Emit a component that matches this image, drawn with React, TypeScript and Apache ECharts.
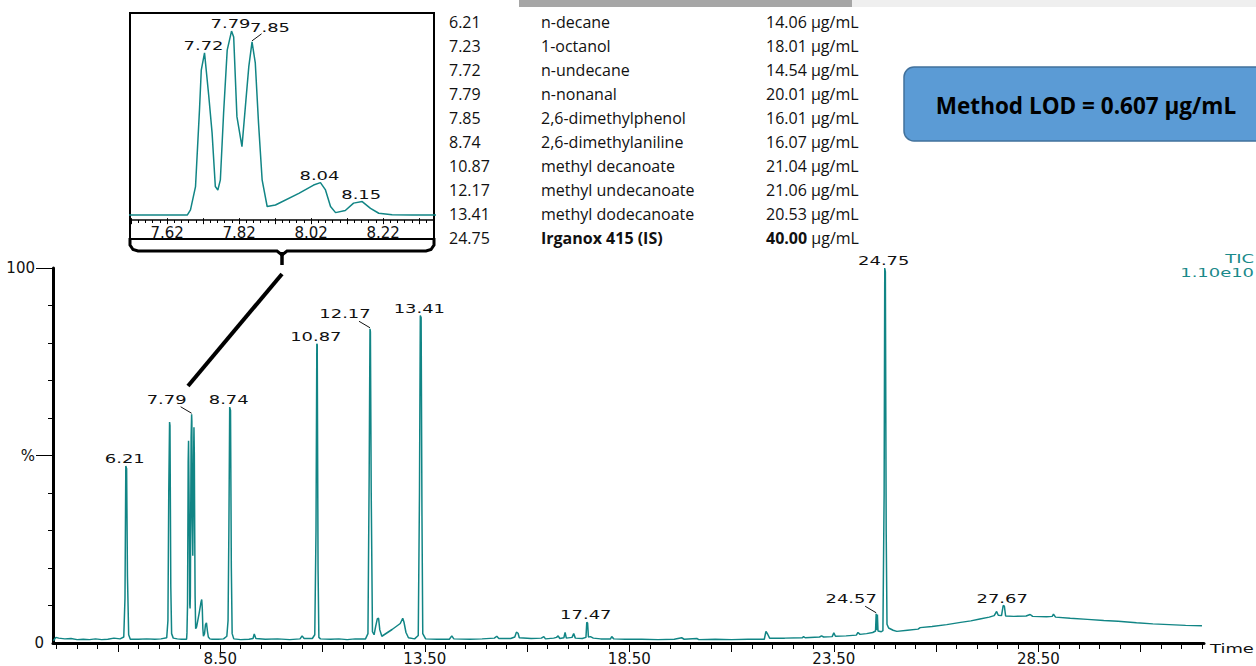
import React, { useEffect, useRef } from 'react';
import * as echarts from 'echarts';

// ---------- chromatogram (retention time [min], relative abundance [%]) ----------
const traceEarly: [number, number][] = [
  [4.42, 0.6], [4.48, 1.5], [4.55, 1.3], [4.7, 1.1], [4.85, 1.2], [5.0, 0.9], [5.15, 1.0], [5.3, 0.9],
  [5.45, 1.1], [5.6, 0.9], [5.75, 1.0], [5.9, 1.3], [6.05, 1.1],
  [6.14, 1.6], [6.17, 12], [6.19, 47.2], [6.21, 46.5], [6.23, 18], [6.26, 2.2], [6.3, 1.0],
  [6.5, 1.0], [6.7, 1.1], [6.9, 1.0], [7.05, 1.1], [7.19, 1.4],
  [7.22, 6], [7.24, 40], [7.26, 58.9], [7.27, 58], [7.29, 15], [7.31, 2.5], [7.35, 1.3],
  [7.45, 1.1], [7.55, 1.0], [7.62, 1.0], [7.676, 1.0],
];

const clusterTrace: [number, number][] = [
  [7.685, 2.7], [7.699, 10.3], [7.71, 35.3], [7.715, 48.3], [7.724, 53.9], [7.736, 39.6], [7.745, 27.8],
  [7.754, 10.3], [7.761, 9.2], [7.768, 12.5], [7.777, 34.3], [7.787, 54.8], [7.799, 61.0], [7.805, 59.1],
  [7.814, 33.1], [7.828, 23.3], [7.839, 38.5], [7.847, 49.4], [7.856, 57.5], [7.865, 50.6], [7.874, 31.0],
  [7.884, 12.5], [7.898, 3.8], [7.921, 4.3], [7.986, 8.1], [8.027, 10.8], [8.046, 11.6], [8.06, 9.2],
  [8.074, 3.8], [8.088, 1.8], [8.115, 2.5], [8.138, 4.9], [8.162, 5.4], [8.185, 3.2], [8.208, 1.6],
  [8.245, 1.1], [8.3, 1.0], [8.36, 1.0],
];

const traceMid: [number, number][] = [
  [8.45, 1.0], [8.58, 1.1], [8.66, 1.8], [8.69, 6], [8.71, 30], [8.73, 62.9], [8.75, 62], [8.77, 20],
  [8.79, 2.5], [8.83, 1.1], [9.0, 0.9], [9.2, 1.0], [9.3, 1.2], [9.33, 2.4], [9.37, 1.2], [9.6, 1.0],
  [9.9, 1.1], [10.2, 0.9], [10.45, 1.1], [10.5, 1.9], [10.55, 1.2], [10.75, 1.2], [10.81, 2.2],
  [10.84, 30], [10.86, 79.8], [10.87, 79.5], [10.89, 20], [10.91, 1.5], [10.95, 1.1],
  [11.2, 1.0], [11.4, 1.1], [11.6, 0.9], [11.8, 1.1], [12.05, 1.1], [12.11, 2.5],
  [12.14, 45], [12.16, 83.8], [12.17, 83], [12.19, 40], [12.22, 3], [12.26, 2.2], [12.3, 4.5],
  [12.34, 6.5], [12.37, 6.6], [12.4, 3.5], [12.45, 1.8], [12.7, 3.6], [12.9, 5.2], [12.96, 6.6],
  [12.99, 5.6], [13.04, 2.8], [13.1, 1.4], [13.25, 1.1], [13.34, 2],
  [13.37, 40], [13.39, 87.3], [13.41, 86.8], [13.43, 35], [13.45, 2.5],
];

const traceLate: [number, number][] = [
  [13.52, 1.1], [13.8, 1.0], [14.1, 1.0], [14.16, 1.9], [14.21, 1.1], [14.6, 1.0], [14.9, 1.1], [15.2, 1.3],
  [15.26, 1.8], [15.31, 1.2], [15.6, 1.2], [15.7, 1.6], [15.74, 2.9], [15.78, 2.6], [15.81, 1.4], [16.1, 1.2],
  [16.35, 1.3], [16.41, 1.7], [16.45, 1.1], [16.65, 1.3], [16.72, 1.5], [16.76, 1.9], [16.8, 1.2], [16.9, 1.4],
  [16.93, 2.8], [16.96, 1.3], [17.1, 1.5], [17.14, 2.5], [17.18, 1.3], [17.35, 1.2], [17.44, 1.5],
  [17.46, 5.5], [17.48, 5.3], [17.5, 1.6], [17.55, 1.7], [17.62, 1.3], [17.8, 1.1], [18.04, 1.1], [18.07, 1.7],
  [18.12, 1.1], [18.4, 1.0], [18.8, 1.0], [19.2, 0.9], [19.6, 1.0], [19.78, 1.4], [19.84, 1.0], [20.15, 1.2],
  [20.2, 0.9], [20.6, 1.0], [21.0, 0.9], [21.4, 1.0], [21.8, 1.0], [21.84, 3.1], [21.88, 2.4], [21.93, 1.3],
  [22.3, 1.3], [22.73, 1.4], [22.76, 1.7], [22.8, 1.4], [23.15, 1.6], [23.2, 1.9], [23.25, 1.6], [23.46, 1.7],
  [23.5, 2.7], [23.54, 1.8], [23.8, 1.9], [24.05, 2.1], [24.09, 2.8], [24.14, 2.3], [24.3, 2.5], [24.45, 2.8],
  [24.52, 3.2], [24.535, 7.8], [24.55, 3.5], [24.565, 7.6], [24.58, 3.2], [24.66, 3.0], [24.7, 3.3],
  [24.73, 40], [24.745, 100], [24.76, 99], [24.78, 30], [24.8, 5], [24.84, 4.0], [24.95, 3.4], [25.04, 3.1],
  [25.3, 3.4], [25.56, 3.7], [25.61, 4.1], [25.9, 4.4], [26.26, 4.9], [26.6, 5.5], [26.85, 5.9], [27.07, 6.4],
  [27.3, 6.9], [27.42, 7.3], [27.48, 8.4], [27.52, 7.4], [27.6, 7.3], [27.64, 10.0], [27.67, 9.8], [27.7, 7.2],
  [27.9, 7.1], [28.2, 7.2], [28.3, 7.6], [28.36, 7.1], [28.7, 7.0], [28.84, 7.1], [28.87, 7.7], [28.92, 6.9],
  [29.28, 6.6], [29.7, 6.3], [30.1, 6.0], [30.45, 5.8], [30.9, 5.4], [31.3, 5.1], [31.7, 4.9], [32.1, 4.7],
  [32.5, 4.6],
];

// ---------- peak labels ----------
const mainLabelTimes = [6.19, 7.799, 8.73, 10.86, 12.16, 13.39, 17.46, 24.535, 24.745, 27.64];
const mainLabelValues = [47.2, 61.0, 62.9, 79.8, 83.8, 87.3, 5.5, 7.8, 100, 10.0];
const mainLabelTexts = ['6.21', '7.79', '8.74', '10.87', '12.17', '13.41', '17.47', '24.57', '24.75', '27.67'];
const mainLabelPlaces = ['above', 'upLeft', 'above', 'above', 'upLeft', 'above', 'above', 'upLeft', 'above', 'above'];

const insetLabelTimes = [7.724, 7.799, 7.856, 8.046, 8.162];
const insetLabelValues = [53.9, 61.0, 57.5, 11.6, 5.4];
const insetLabelTexts = ['7.72', '7.79', '7.85', '8.04', '8.15'];
const insetLabelPlaces = ['above', 'above', 'upRight', 'above', 'above'];

// ---------- axis ticks / labels ----------
const mainXLabels = [8.5, 13.5, 18.5, 23.5, 28.5];
const mainXMajorTicks = [6, 8.5, 11, 13.5, 16, 18.5, 21, 23.5, 26, 28.5, 31];
const insetXLabels = [7.62, 7.82, 8.02, 8.22];
const insetXMajorTicks = [7.52, 7.62, 7.72, 7.82, 7.92, 8.02, 8.12, 8.22, 8.32];
const yMinorTicks = [10, 20, 30, 40, 60, 70, 80, 90];

// ---------- table ----------
const tableRT = ['6.21', '7.23', '7.72', '7.79', '7.85', '8.74', '10.87', '12.17', '13.41', '24.75'];
const tableCompound = ['n-decane', '1-octanol', 'n-undecane', 'n-nonanal', '2,6-dimethylphenol',
  '2,6-dimethylaniline', 'methyl decanoate', 'methyl undecanoate', 'methyl dodecanoate', 'Irganox 415 (IS)'];
const tableConc = ['14.06', '18.01', '14.54', '20.01', '16.01', '16.07', '21.04', '21.06', '20.53', '40.00'];
const tableUnit = 'µg/mL';
const lodText = 'Method LOD = 0.607 µg/mL';

const TEAL = '#118585';
const LABEL_FONT = 'DejaVu Sans';
const STRETCH = 1.38;

const PLACES: Record<string, { dx: number; dy: number; leader?: [number, number] }> = {
  above: { dx: -1, dy: -7.5 },
  upLeft: { dx: -25, dy: -15, leader: [-11, -7.5] },
  upRight: { dx: 18, dy: -14.6, leader: [9.5, -8] },
};

function stepTicks(from: number, to: number, step: number): number[] {
  const out: number[] = [];
  const n = Math.round((to - from) / step);
  for (let i = 0; i <= n; i++) out.push(Math.round((from + i * step) * 1000) / 1000);
  return out;
}

function labelRenderer(texts: string[], places: string[]) {
  return (params: any, api: any) => {
    const i = params.dataIndex;
    const p = api.coord([api.value(0), api.value(1)]);
    const pl = PLACES[places[i]];
    const children: any[] = [
      {
        type: 'text',
        x: p[0] + pl.dx,
        y: p[1] + pl.dy,
        scaleX: STRETCH,
        style: {
          text: texts[i],
          fill: '#111',
          fontSize: 13,
          fontFamily: LABEL_FONT,
          align: 'center',
          verticalAlign: 'middle',
          textAlign: 'center',
          textVerticalAlign: 'middle',
        },
      },
    ];
    if (pl.leader) {
      children.push({
        type: 'line',
        shape: { x1: p[0], y1: p[1] - 1, x2: p[0] + pl.leader[0], y2: p[1] + pl.leader[1] },
        style: { stroke: '#111', lineWidth: 1 },
      });
    }
    return { type: 'group', children };
  };
}

export default function App() {
  const ref = useRef<HTMLDivElement>(null);
  useEffect(() => {
    const chart = echarts.init(ref.current!, null, { renderer: 'svg' });
    const chromatogram = [...traceEarly, ...clusterTrace, ...traceMid, ...traceLate];
    const minorMain = stepTicks(4.5, 32.5, 0.5);
    const minorInset = stepTicks(7.52, 8.36, 0.02);

    const tableTexts: any[] = [];
    tableRT.forEach((rt, i) => {
      const y = 21.5 + i * 24;
      const last = i === tableRT.length - 1;
      const base = { fill: '#111', fontSize: 16, fontFamily: 'Open Sans', textAlign: 'left', textVerticalAlign: 'middle', align: 'left', verticalAlign: 'middle' };
      tableTexts.push({ type: 'text', x: 449, y, style: { ...base, text: rt } });
      tableTexts.push({ type: 'text', x: 541, y, style: { ...base, text: tableCompound[i], fontWeight: last ? 'bold' : 'normal' } });
      tableTexts.push({
        type: 'text', x: 766, y,
        style: {
          ...base,
          text: last ? `{b|${tableConc[i]}} ${tableUnit}` : `${tableConc[i]} ${tableUnit}`,
          rich: { b: { fontWeight: 'bold', fontSize: 16, fontFamily: 'Open Sans', fill: '#111' } },
        },
      });
    });

    const option: any = {
      animation: false,
      backgroundColor: '#fff',
      grid: [
        { left: 53, top: 268, width: 1151, height: 377, containLabel: false },
        { left: 130, top: 13, width: 304, height: 207, containLabel: false },
      ],
      xAxis: [
        {
          gridIndex: 0, type: 'value', min: 4.41, max: 32.55, position: 'bottom',
          axisLine: { onZero: false, lineStyle: { color: '#000', width: 3 } },
          axisTick: { customValues: minorMain, length: 6, lineStyle: { color: '#000', width: 1 } },
          axisLabel: { customValues: mainXLabels, formatter: (v: number) => v.toFixed(2), color: '#111', fontSize: 15, fontFamily: LABEL_FONT, margin: 8 },
          splitLine: { show: false },
        },
        {
          gridIndex: 0, type: 'value', min: 4.41, max: 32.55, position: 'bottom',
          axisLine: { show: false },
          axisTick: { customValues: mainXMajorTicks, length: 9, lineStyle: { color: '#000', width: 1 } },
          axisLabel: { show: false },
          splitLine: { show: false },
        },
        {
          gridIndex: 1, type: 'value', min: 7.517, max: 8.3614, position: 'bottom',
          axisLine: { onZero: false, lineStyle: { color: '#000', width: 1.5 } },
          axisTick: { customValues: minorInset, length: 3, lineStyle: { color: '#000', width: 1 } },
          axisLabel: { customValues: insetXLabels, formatter: (v: number) => v.toFixed(2), color: '#111', fontSize: 15, fontFamily: LABEL_FONT, margin: 5 },
          splitLine: { show: false },
        },
        {
          gridIndex: 1, type: 'value', min: 7.517, max: 8.3614, position: 'bottom',
          axisLine: { show: false },
          axisTick: { customValues: insetXMajorTicks, length: 6, lineStyle: { color: '#000', width: 1 } },
          axisLabel: { show: false },
          splitLine: { show: false },
        },
      ],
      yAxis: [
        {
          gridIndex: 0, type: 'value', min: 0, max: 100, position: 'left',
          axisLine: { show: true, onZero: false, lineStyle: { color: '#000', width: 3 } },
          axisTick: { customValues: yMinorTicks, length: 5, lineStyle: { color: '#000', width: 1 } },
          axisLabel: { customValues: [0], color: '#111', fontSize: 15, fontFamily: LABEL_FONT, margin: 9 },
          splitLine: { show: false },
        },
        {
          gridIndex: 0, type: 'value', min: 0, max: 100, position: 'left',
          axisLine: { show: false },
          axisTick: { customValues: [50, 100], length: 17, lineStyle: { color: '#000', width: 1 } },
          axisLabel: { customValues: [50, 100], formatter: (v: number) => (v === 50 ? '%' : String(v)), color: '#111', fontSize: 15, fontFamily: LABEL_FONT, margin: 18 },
          splitLine: { show: false },
        },
        { gridIndex: 1, type: 'value', min: -0.6, max: 66.9, show: false },
      ],
      series: [
        {
          type: 'line', xAxisIndex: 0, yAxisIndex: 0, data: chromatogram, symbol: 'none', showSymbol: false,
          lineStyle: { color: TEAL, width: 1.5 }, z: 3,
        },
        {
          type: 'line', xAxisIndex: 2, yAxisIndex: 2, data: chromatogram, symbol: 'none', showSymbol: false,
          clip: true, lineStyle: { color: TEAL, width: 1.5 }, z: 3,
        },
        {
          type: 'custom', xAxisIndex: 0, yAxisIndex: 0, z: 5,
          data: mainLabelTimes.map((t, i) => [t, mainLabelValues[i]]),
          renderItem: labelRenderer(mainLabelTexts, mainLabelPlaces),
        },
        {
          type: 'custom', xAxisIndex: 2, yAxisIndex: 2, z: 5,
          data: insetLabelTimes.map((t, i) => [t, insetLabelValues[i]]),
          renderItem: labelRenderer(insetLabelTexts, insetLabelPlaces),
        },
      ],
      graphic: [
        { type: 'rect', shape: { x: 519, y: 0, width: 333, height: 7 }, style: { fill: '#a6a6a6' } },
        { type: 'rect', shape: { x: 852, y: 0, width: 404, height: 7 }, style: { fill: '#efefef' } },
        ...tableTexts,
        {
          type: 'rect', shape: { x: 904, y: 67, width: 380, height: 74, r: 10 },
          style: { fill: '#5b9bd5', stroke: '#41719c', lineWidth: 1.5 },
        },
        {
          type: 'text', x: 1086, y: 105,
          style: { text: lodText, fill: '#000', fontSize: 22.5, fontWeight: 'bold', fontFamily: 'Open Sans', textAlign: 'center', textVerticalAlign: 'middle', align: 'center', verticalAlign: 'middle' },
        },
        // inset frame and bracket
        { type: 'rect', shape: { x: 130, y: 13, width: 304, height: 226 }, style: { fill: 'none', stroke: '#000', lineWidth: 2 } },
        {
          type: 'polyline',
          shape: { points: [[130, 238], [130, 245], [133, 249.5], [138, 251], [277, 251], [282, 255], [287, 251], [426, 251], [431, 249.5], [434, 245], [434, 238]] },
          style: { fill: 'none', stroke: '#000', lineWidth: 3 },
        },
        { type: 'line', shape: { x1: 282, y1: 252, x2: 282, y2: 265 }, style: { stroke: '#000', lineWidth: 3.5 } },
        { type: 'line', shape: { x1: 282, y1: 274, x2: 188, y2: 386 }, style: { stroke: '#000', lineWidth: 4 } },
        // TIC annotation
        {
          type: 'text', x: 1254, y: 258, scaleX: STRETCH,
          style: { text: 'TIC', fill: '#1a8a8a', fontSize: 13, fontFamily: LABEL_FONT, textAlign: 'right', textVerticalAlign: 'middle', align: 'right', verticalAlign: 'middle' },
        },
        {
          type: 'text', x: 1254, y: 272, scaleX: STRETCH,
          style: { text: '1.10e10', fill: '#1a8a8a', fontSize: 13, fontFamily: LABEL_FONT, textAlign: 'right', textVerticalAlign: 'middle', align: 'right', verticalAlign: 'middle' },
        },
        {
          type: 'text', x: 1210, y: 648, scaleX: STRETCH,
          style: { text: 'Time', fill: '#111', fontSize: 13, fontFamily: LABEL_FONT, textAlign: 'left', textVerticalAlign: 'middle', align: 'left', verticalAlign: 'middle' },
        },
      ],
    };
    chart.setOption(option);
    return () => chart.dispose();
  }, []);
  return (
    <div
      ref={ref}
      style={{ position: 'fixed', left: 0, top: 0, width: 1256, height: 666, background: '#fff' }}
    />
  );
}
